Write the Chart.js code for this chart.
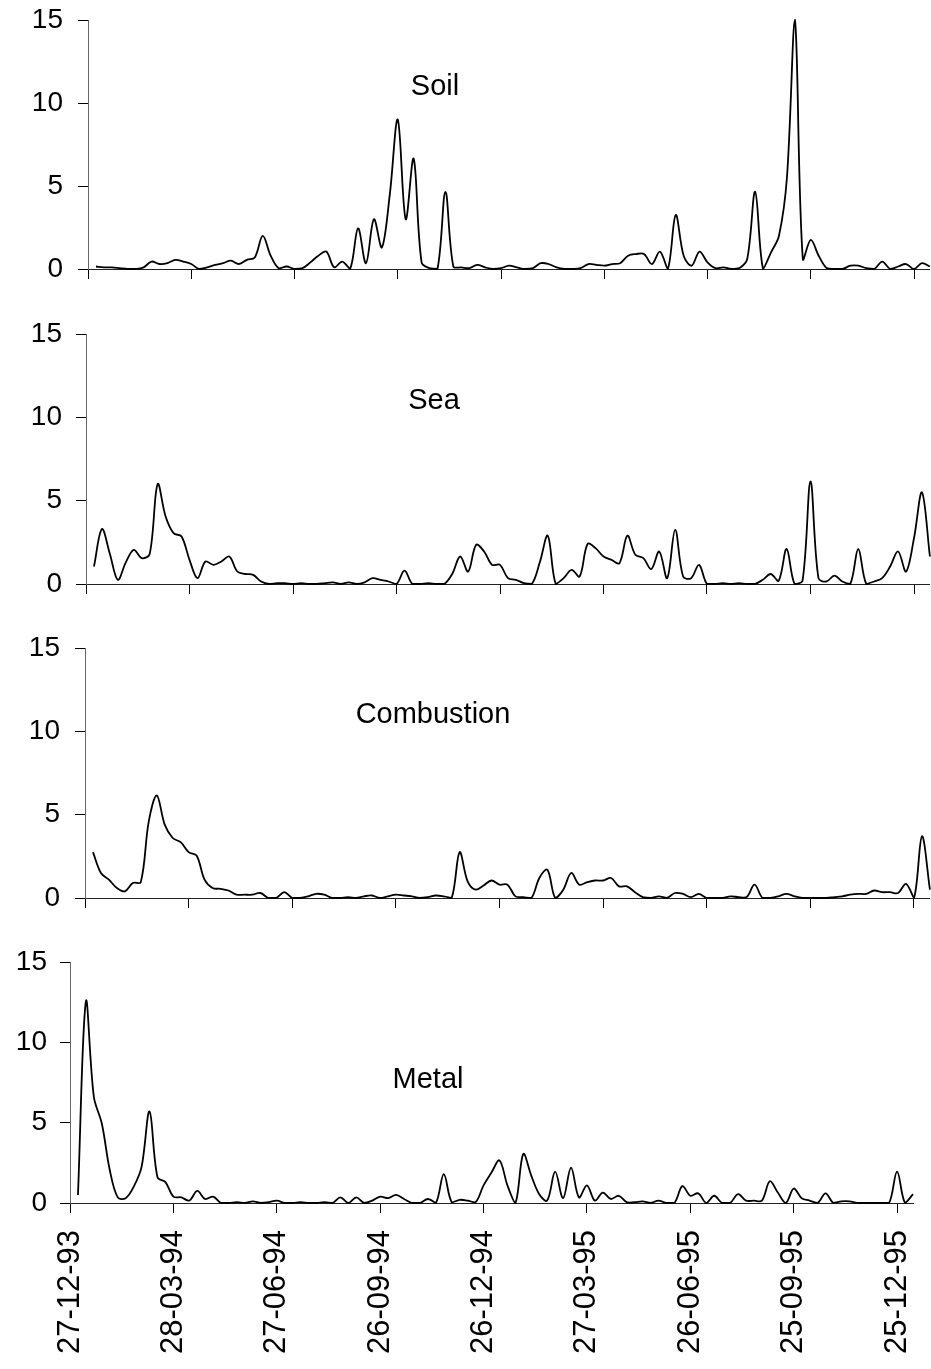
<!DOCTYPE html>
<html>
<head>
<meta charset="utf-8">
<script src="https://cdn.jsdelivr.net/npm/chart.js@4/dist/chart.umd.min.js"></script>
<style>
  body { margin: 0; background: #fff; }
  #wrap { position: relative; width: 931px; height: 1369px; }
  canvas { position: absolute; left: 0; }
</style>
</head>
<body>
<div id="wrap">
  <canvas id="soil" width="931" height="300" style="top:0px"></canvas>
  <canvas id="sea" width="931" height="305" style="top:310px"></canvas>
  <canvas id="combustion" width="931" height="305" style="top:625px"></canvas>
  <canvas id="metal" width="931" height="434" style="top:935px"></canvas>
</div>
<script>
// weekly samples, week 1 = 03-01-94; ticks every 13 weeks from 27-12-93
const tickLabels = ['27-12-93', '28-03-94', '27-06-94', '26-09-94', '26-12-94',
                    '27-03-95', '26-06-95', '25-09-95', '25-12-95'];

const soil = [
  0.15, 0.1, 0.1, 0.05, 0, 0, 0.1, 0.45, 0.3, 0.35,
  0.55, 0.45, 0.3, 0, 0.1, 0.25, 0.35, 0.5, 0.3, 0.55,
  0.7, 2.0, 0.8, 0.05, 0.15, 0, 0.05, 0.4, 0.8, 1.05,
  0.1, 0.45, 0, 2.45, 0.35, 3.0, 1.3, 4.5, 9.0, 3.0,
  6.65, 0.4, 0.05, 0, 4.65, 0.15, 0.1, 0.05, 0.25, 0.1,
  0, 0.05, 0.2, 0.1, 0, 0.05, 0.35, 0.3, 0.1, 0,
  0, 0.05, 0.3, 0.25, 0.2, 0.3, 0.35, 0.8, 0.9, 0.9,
  0.3, 1.05, 0, 3.25, 0.8, 0.2, 1.05, 0.4, 0.05, 0.1,
  0, 0.05, 0.6, 4.65, 0, 1.0, 2.0, 5.5, 15, 0.6,
  1.75, 0.8, 0.05, 0, 0, 0.2, 0.2, 0.05, 0, 0.45,
  0, 0.15, 0.3, 0, 0.35, 0.15
];

const sea = [
  1.05, 3.3, 1.8, 0.25, 1.3, 2.05, 1.55, 1.8, 6.0, 4.05,
  3.05, 2.85, 1.45, 0.35, 1.35, 1.15, 1.35, 1.65, 0.75, 0.6,
  0.55, 0.15, 0, 0.05, 0.05, 0, 0.05, 0, 0, 0.05,
  0.1, 0, 0.1, 0, 0.1, 0.35, 0.25, 0.15, 0, 0.8,
  0, 0, 0.05, 0, 0, 0.6, 1.65, 0.75, 2.35, 1.95,
  1.15, 1.15, 0.35, 0.25, 0.05, 0, 1.3, 2.9, 0, 0.35,
  0.85, 0.45, 2.4, 2.15, 1.65, 1.45, 1.25, 2.9, 1.75, 1.55,
  0.9, 1.95, 0.35, 3.25, 0.45, 0.35, 1.15, 0, 0, 0.05,
  0, 0.05, 0, 0, 0.25, 0.6, 0.2, 2.1, 0, 0.2,
  6.15, 0.35, 0.15, 0.5, 0.15, 0, 2.1, 0, 0.15, 0.35,
  1.05, 1.95, 0.75, 2.75, 5.5, 1.65
];

const combustion = [
  2.75, 1.5, 1.1, 0.6, 0.4, 0.9, 0.95, 4.6, 6.15, 4.4,
  3.6, 3.35, 2.75, 2.55, 1.1, 0.6, 0.55, 0.45, 0.2, 0.2,
  0.2, 0.3, 0, 0, 0.35, 0, 0, 0.1, 0.25, 0.2,
  0, 0, 0.05, 0, 0.1, 0.15, 0, 0.1, 0.2, 0.15,
  0.1, 0, 0.05, 0.15, 0.1, 0, 2.75, 1.0, 0.5, 0.75,
  1.05, 0.8, 0.8, 0.1, 0.05, 0, 1.2, 1.7, 0, 0.5,
  1.5, 0.8, 0.95, 1.05, 1.05, 1.2, 0.7, 0.7, 0.35, 0.05,
  0, 0.1, 0, 0.3, 0.25, 0.05, 0.25, 0, 0, 0,
  0.1, 0.05, 0.05, 0.8, 0, 0, 0.1, 0.25, 0.1, 0,
  0, 0, 0, 0.05, 0.1, 0.2, 0.25, 0.25, 0.45, 0.35,
  0.35, 0.3, 0.85, 0, 3.7, 0.5
];

const metal = [
  0.5, 12.55, 6.6, 4.95, 2.05, 0.35, 0.3, 1.0, 2.25, 5.7,
  1.6, 1.3, 0.4, 0.35, 0.15, 0.75, 0.25, 0.4, 0, 0,
  0.05, 0, 0.1, 0, 0.05, 0.15, 0, 0, 0.05, 0,
  0, 0.05, 0, 0.35, 0, 0.35, 0, 0.15, 0.4, 0.3,
  0.5, 0.25, 0, 0, 0.25, 0, 1.8, 0.05, 0.2, 0.15,
  0.05, 1.1, 1.9, 2.65, 1.1, 0, 3.05, 1.7, 0.55, 0.15,
  1.95, 0.3, 2.2, 0.35, 1.1, 0.15, 0.65, 0.25, 0.45, 0.05,
  0.05, 0.1, 0, 0.15, 0, 0, 1.05, 0.45, 0.6, 0,
  0.45, 0, 0, 0.55, 0.15, 0.15, 0.15, 1.35, 0.65, 0,
  0.9, 0.3, 0.15, 0, 0.6, 0, 0.1, 0.1, 0, 0,
  0, 0, 0, 1.95, 0, 0.55
];

Chart.defaults.font.family = '"Liberation Sans", Arial, sans-serif';
Chart.defaults.color = '#000';

// name drawn inside each panel
const panelName = {
  id: 'panelName',
  afterDatasetsDraw(chart, args, opts) {
    const ctx = chart.ctx;
    ctx.save();
    ctx.font = '29px "Liberation Sans", Arial, sans-serif';
    ctx.fillStyle = '#000';
    ctx.textAlign = 'center';
    ctx.textBaseline = 'alphabetic';
    ctx.fillText(opts.text, opts.x, opts.y);
    ctx.restore();
  }
};

const panels = [
  { id: 'soil', name: 'Soil', values: soil, top: 0, height: 300,
    plotTop: 20, plotBottom: 269, plotLeft: 88, plotRight: 931,
    nameX: 435, nameY: 95, labelPad: 15, dates: false },
  { id: 'sea', name: 'Sea', values: sea, top: 310, height: 305,
    plotTop: 334, plotBottom: 584, plotLeft: 86, plotRight: 931,
    nameX: 434, nameY: 409, labelPad: 14, dates: false },
  { id: 'combustion', name: 'Combustion', values: combustion, top: 625, height: 305,
    plotTop: 648, plotBottom: 898, plotLeft: 85, plotRight: 931,
    nameX: 433, nameY: 723, labelPad: 15, dates: false },
  { id: 'metal', name: 'Metal', values: metal, top: 935, height: 434,
    plotTop: 962, plotBottom: 1203, plotLeft: 70, plotRight: 913,
    nameX: 428, nameY: 1088, labelPad: 13, dates: true }
];

panels.forEach(p => {
  const plotBottom = p.plotBottom - p.top;
  new Chart(document.getElementById(p.id), {
    type: 'line',
    data: {
      datasets: [{
        data: p.values.map((v, i) => ({ x: i + 1, y: v })),
        borderColor: '#000',
        borderWidth: 1.8,
        pointRadius: 0,
        tension: 0.35,
        fill: false,
        clip: { left: 2, right: 2, top: 1, bottom: 6 }
      }]
    },
    options: {
      responsive: false,
      animation: false,
      devicePixelRatio: 1,
      layout: {
        autoPadding: false,
        padding: { top: p.plotTop - p.top, right: 931 - p.plotRight, left: 0, bottom: 0 }
      },
      plugins: {
        legend: { display: false },
        tooltip: { enabled: false },
        panelName: { text: p.name, x: p.nameX, y: p.nameY - p.top }
      },
      scales: {
        x: {
          type: 'linear',
          min: 0,
          max: 106,
          afterFit: s => { s.height = p.height - plotBottom; },
          ticks: {
            stepSize: 13,
            includeBounds: false,
            autoSkip: false,
            maxRotation: p.dates ? 90 : 0,
            minRotation: p.dates ? 90 : 0,
            padding: 17,
            // small lineHeight keeps the label box from pushing the plot edges in
            font: { size: 31, lineHeight: 0.2 },
            color: '#000',
            callback: v => (p.dates && v % 13 === 0) ? tickLabels[v / 13] : ''
          },
          grid: { drawOnChartArea: false, drawTicks: true, tickLength: 10, color: '#000' },
          border: { display: true, color: '#222', width: 1 }
        },
        y: {
          min: 0,
          max: 15,
          afterFit: s => { s.width = p.plotLeft; },
          ticks: { stepSize: 5, padding: p.labelPad, font: { size: 28, lineHeight: 0.2 }, color: '#000' },
          grid: { drawOnChartArea: false, drawTicks: true, tickLength: 10, color: '#000' },
          border: { display: true, color: '#666', width: 1 }
        }
      }
    },
    plugins: [panelName]
  });
});
</script>
</body>
</html>
